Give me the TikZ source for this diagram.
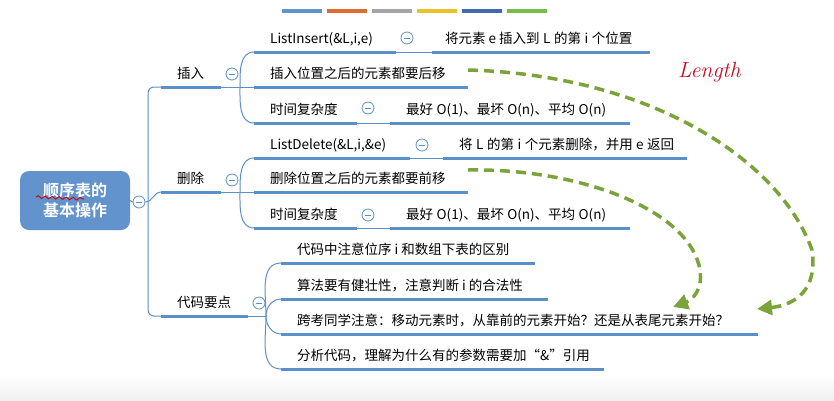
\documentclass[tikz,border=0pt]{standalone}
\usepackage{fontspec}
\newfontfamily\cjk{Noto Sans CJK SC}
\newfontfamily\cjkb{Noto Sans CJK SC Bold}
\usepackage{tikz}
\usetikzlibrary{arrows.meta}
\usetikzlibrary{decorations.pathmorphing}

\definecolor{mapblue}{RGB}{91,143,201}
\definecolor{rootblue}{RGB}{99,147,204}
\definecolor{hintgreen}{RGB}{122,163,58}
\definecolor{inkred}{RGB}{200,10,30}
\definecolor{barblue}{RGB}{95,150,200}
\definecolor{barorange}{RGB}{220,110,50}
\definecolor{bargray}{RGB}{165,165,165}
\definecolor{baryellow}{RGB}{235,195,40}
\definecolor{bardark}{RGB}{65,105,175}
\definecolor{bargreen}{RGB}{120,190,70}

\newcommand{\cjkgap}{\hspace{3.5pt}}

\tikzset{
	txt/.style={anchor=base west,inner sep=0pt,font=\cjk\fontsize{13.5}{16}\selectfont},
	uline/.style={draw=mapblue,line width=3pt},
	twig/.style={draw=mapblue,line width=1pt},
	fold/.style={circle,draw=mapblue,line width=0.8pt,fill=white,minimum size=12pt,inner sep=0pt,
		path picture={\draw[mapblue,line width=0.8pt] ([xshift=-3pt]path picture bounding box.center) -- ([xshift=3pt]path picture bounding box.center);}},
	rootbox/.style={rectangle,rounded corners=9pt,fill=rootblue,text=white,align=center,
		minimum width=110pt,minimum height=59pt,font=\cjkb\fontsize{16}{20}\selectfont},
	hint/.style={draw=hintgreen,line width=3.5pt,dash pattern=on 10pt off 6pt,-{Triangle[length=15pt,width=15pt]}}
}

\begin{document}
\begin{tikzpicture}[x=1pt,y=-1pt]
	\useasboundingbox (0,0) rectangle (834,400);
	\shade[top color=white,bottom color=black!6] (0,376) rectangle (834,400);
	\foreach \c [count=\i from 0] in {barblue,barorange,bargray,baryellow,bardark,bargreen}
		\draw[line width=4pt,\c] ({282+45*\i},11) -- ++(40,0);

	\node[rootbox] (root) at (75,200.5) {顺序表的\\基本操作};
	\draw[inkred,line width=1pt,decorate,decoration={snake,amplitude=1.3pt,segment length=7pt}] (36,197) -- (84,199);
	\node[fold] (rootf) at (139,202) {};
	\draw[twig] (root.east) -- (rootf.west);
	\coordinate (trunk) at (148,0);

	\node[txt] (ins) at (177,78) {插入};
	\draw[uline] (161,87) coordinate (insa) -- (221,87) coordinate (insb);
	\node[fold] (insf) at (232,74) {};
	\draw[twig] (insb) -- (240,87) coordinate (insc);
	\node[txt] (del) at (177,183) {删除};
	\draw[uline] (161,192) coordinate (dela) -- (221,192) coordinate (delb);
	\node[fold] (delf) at (232,180) {};
	\draw[twig] (delb) -- (240,192) coordinate (delc);
	\node[txt] (code) at (177,307) {代码要点};
	\draw[uline] (161,316) coordinate (codea) -- (248,316) coordinate (codeb);
	\node[fold] (codef) at (259,303) {};
	\draw[twig] (codeb) -- (266,316) coordinate (codec);

	\draw[twig,rounded corners=6pt] (insa) -- (trunk |- insa) -- (trunk |- codea) -- (codea);
	\draw[twig] (rootf.east) to[out=0,in=180] (dela);

	\node[txt] (ins1) at (270,43) {ListInsert(\&L,i,e)};
	\draw[uline] (254,52) coordinate (ins1a) -- (396,52) coordinate (ins1b);
	\node[fold] (ins1f) at (407,38) {};
	\draw[twig] (ins1b) -- (432,52) coordinate (ins1c);
	\draw[uline] (ins1c) -- (650,52);
	\node[txt] (ins1v) at (445,43) {将元素 e 插入到\cjkgap L\cjkgap 的第\cjkgap i\cjkgap 个位置};
	\node[txt] (ins2) at (270,78) {插入位置之后的元素都要后移};
	\draw[uline] (254,87) coordinate (ins2a) -- (468,87) coordinate (ins2b);
	\node[txt] (ins3) at (270,114) {时间复杂度};
	\draw[uline] (254,123) coordinate (ins3a) -- (357,123) coordinate (ins3b);
	\node[fold] (ins3f) at (368,108) {};
	\draw[twig] (ins3b) -- (390,123) coordinate (ins3c);
	\draw[uline] (ins3c) -- (630,123);
	\node[txt] (ins3v) at (406,114) {最好\cjkgap O(1)、最坏\cjkgap O(n)、平均\cjkgap O(n)};
	\draw[twig] (insc) to[out=90,in=180] (ins1a);
	\draw[twig] (insc) -- (ins2a);
	\draw[twig] (insc) to[out=-90,in=180] (ins3a);

	\node[txt] (del1) at (270,149) {ListDelete(\&L,i,\&e)};
	\draw[uline] (254,158) coordinate (del1a) -- (410,158) coordinate (del1b);
	\node[fold] (del1f) at (422,145) {};
	\draw[twig] (del1b) -- (443,158) coordinate (del1c);
	\draw[uline] (del1c) -- (687,158);
	\node[txt] (del1v) at (459,149) {将\cjkgap L\cjkgap 的第\cjkgap i\cjkgap 个元素删除，并用\cjkgap e\cjkgap 返回};
	\node[txt] (del2) at (270,183) {删除位置之后的元素都要前移};
	\draw[uline] (254,192) coordinate (del2a) -- (468,192) coordinate (del2b);
	\node[txt] (del3) at (270,219) {时间复杂度};
	\draw[uline] (254,228) coordinate (del3a) -- (357,228) coordinate (del3b);
	\node[fold] (del3f) at (368,215) {};
	\draw[twig] (del3b) -- (390,228) coordinate (del3c);
	\draw[uline] (del3c) -- (630,228);
	\node[txt] (del3v) at (406,219) {最好\cjkgap O(1)、最坏\cjkgap O(n)、平均\cjkgap O(n)};
	\draw[twig] (delc) to[out=90,in=180] (del1a);
	\draw[twig] (delc) -- (del2a);
	\draw[twig] (delc) to[out=-90,in=180] (del3a);

	\node[txt] (code1) at (297,254) {代码中注意位序 i 和数组下表的区别};
	\draw[uline] (281,263) coordinate (code1a) -- (535,263);
	\node[txt] (code2) at (297,290) {算法要有健壮性，注意判断 i 的合法性};
	\draw[uline] (281,299) coordinate (code2a) -- (548,299);
	\node[txt] (code3) at (297,325) {跨考同学注意：移动元素时，从靠前的元素开始？还是从表尾元素开始？};
	\draw[uline] (281,334) coordinate (code3a) -- (758,334);
	\node[txt] (code4) at (297,360) {分析代码，理解为什么有的参数需要加“\&”引用};
	\draw[uline] (281,369) coordinate (code4a) -- (604,369);
	\draw[twig] (codec) to[out=90,in=180] (code1a);
	\draw[twig] (codec) to[out=90,in=180] (code2a);
	\draw[twig] (codec) to[out=-90,in=180] (code3a);
	\draw[twig] (codec) to[out=-90,in=180] (code4a);

	\node[anchor=base west,inner sep=0pt,text=inkred,font=\fontsize{22}{22}\selectfont\itshape] (len) at (678,77) {Length};
	\coordinate (fromins) at (468,70);
	\coordinate (toins) at (757,309);
	\coordinate (fromdel) at (468,170);
	\coordinate (todel) at (673,307);
	\draw[hint] (fromins) .. controls (650,75) and (780,160) .. (812,250) .. controls (818,290) and (795,305) .. (toins);
	\draw[hint] (fromdel) .. controls (580,168) and (690,210) .. (700,270) .. controls (703,290) and (692,300) .. (todel);
\end{tikzpicture}
\end{document}
